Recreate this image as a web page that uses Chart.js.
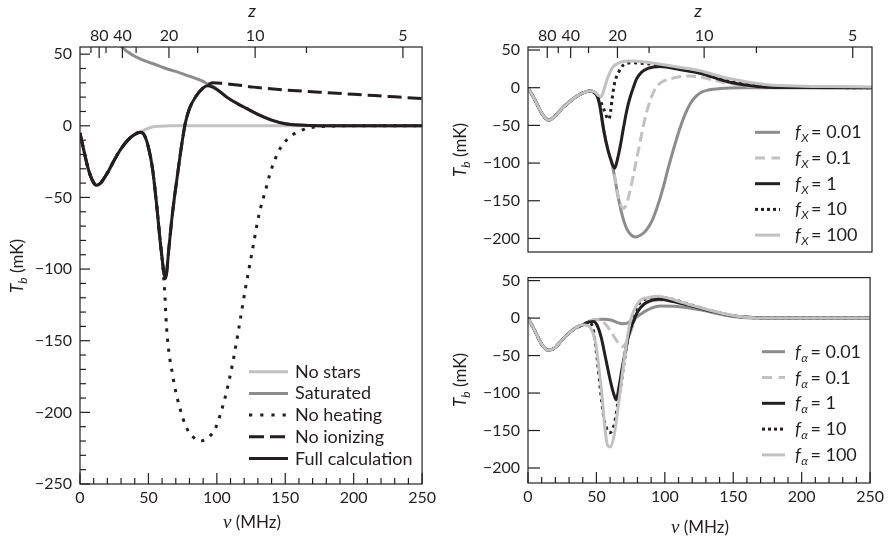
<!DOCTYPE html>
<html>
<head>
<meta charset="utf-8">
<script src="https://cdn.jsdelivr.net/npm/chart.js@4.4.0/dist/chart.umd.min.js"></script>
<style>
  body { margin:0; background:#fff; }
  #wrap { position:relative; width:888px; height:536px; }
  canvas { position:absolute; }
</style>
</head>
<body>
<div id="wrap">
  <canvas id="left" width="440" height="536" style="left:0;top:0"></canvas>
  <canvas id="fx" width="448" height="270" style="left:440px;top:0"></canvas>
  <canvas id="fa" width="448" height="276" style="left:440px;top:260px"></canvas>
</div>
<script>
// ---- data (nu in MHz, Tb in mK) ----

// left panel
var leftLabels = ['No stars', 'Saturated', 'No heating', 'No ionizing', 'Full calculation'];
var nuFull = [0,3,6,9,12,15,20,25,30,35,40,44,47,50,53,56,59,62.5,65,67,69,71,73,75,77,80,85,90,93,97,102,108,115,122,130,140,150,160,175,200,250];
var tbFull = [-5,-18,-30,-38,-41.5,-40,-33,-24,-16,-10,-6,-4.5,-6.5,-15,-30,-55,-84,-106.5,-85,-66,-50,-36,-22,-9,2,12,21,26.5,28,27,24,19.5,15.5,12,8,4,1.5,0.5,0,0,0];
var nuNoStars = [0,3,6,9,12,15,20,25,30,35,40,44,48,52,58,66,80,250];
var tbNoStars = [-5,-18,-30,-38,-41.5,-40,-33,-24,-16,-10,-6,-4.5,-2.5,-1,-0.3,0,0,0];
var nuSat = [25,30,35,41,47,53,60,65,72,77.5,84,90,93,97,102,108,115,122,130,140,150,160,175,200,250];
var tbSat = [59,55.5,51.5,48,45.5,43.5,41,39.3,37.3,35.4,33.3,31,29.3,27.5,24.2,19.5,15.5,12,8,4,1.5,0.5,0,0,0];
var nuNoIon = [0,3,6,9,12,15,20,25,30,35,40,44,47,50,53,56,59,62.5,65,67,69,71,73,75,77,80,85,90,93,97,105,115,127,150,175,200,225,250];
var tbNoIon = [-5,-18,-30,-38,-41.5,-40,-33,-24,-16,-10,-6,-4.5,-6.5,-15,-30,-55,-84,-106.5,-85,-66,-50,-36,-22,-9,2,12,21,26.5,28.5,30,29.5,28.5,27,25,23.5,22,20.5,19];
var nuNoHeat = [0,3,6,9,12,15,20,25,30,35,40,44,47,50,53,56,59,60.5,62,63.2,65.4,67,69,72.7,77.5,82,88,94.5,99,103,107,111.5,116.3,121,125.6,130.8,135.6,139.3,145,150,155,161,168,180,200,250];
var tbNoHeat = [-5,-18,-30,-38,-41.5,-40,-33,-24,-16,-10,-6,-4.5,-6.5,-15,-30,-55,-84,-98,-118,-140,-161,-170,-181,-196,-210,-216.5,-220,-217,-211,-200,-186,-166,-140,-113,-89,-62,-45,-32,-18,-11,-6.5,-3.5,-1.4,-0.3,0,0];

// top right panel, f_X
var fLabels = ['0.01', '0.1', '1', '10', '100'];
var nuFx001 = [0,5,10,15,20,25,30,35,40,45,48,50,52,55,58,61,63,65,67,69.5,72,75,78,82,86,90,94,98,102,106,110,114,118,122,126,130,140,155,250];
var tbFx001 = [0,-16,-34,-43,-37,-27,-19,-12,-7,-4.5,-6,-10,-22,-56,-82,-100,-119,-140,-158,-176,-188,-195.5,-198,-195.5,-189,-177,-158,-134,-106,-80,-56,-36,-21,-11.5,-6,-3.5,-1,0,0];
var nuFx01 = [0,5,10,15,20,25,30,35,40,45,48,50,52,55,58,61,63,65,67,69.5,72,74.5,77,80,83,86,89,92,96,100,106,112,118,125,140,150,160,175,250];
var tbFx01 = [0,-16,-34,-43,-37,-27,-19,-12,-7,-4.5,-6,-10,-22,-56,-82,-100,-119,-140,-154,-160,-152,-134,-112,-85,-58,-34,-16,-3,6,10,13,15,15.5,14,8,4.5,2,0.5,0];
var nuFx1 = [0,5,10,15,20,25,30,35,40,45,48,50,52,55,58,61,63,65,67,69.5,71.8,74,76.7,79,82.8,87,91.3,96,100,110,125,145,165,180,250];
var tbFx1 = [0,-16,-34,-43,-37,-27,-19,-12,-7,-4.5,-6,-10,-22,-56,-82,-100,-107,-95,-78,-52,-30,-14,1,12,21,25.5,27.5,28,27.5,24,19,8,2,0.3,0];
var nuFx10 = [0,5,10,15,20,25,30,35,40,45,48,51,55,57,58.8,60,61,62.8,66,69.3,76,85,100,115,125,145,174,200,250];
var tbFx10 = [0,-16,-34,-43,-37,-27,-19,-12,-7,-4.5,-6,-12,-28,-38,-42,-32,-17,5,21,30,33,32,29,24,21,10,2,0.5,0];
var nuFx100 = [0,5,10,15,20,25,30,35,40,45,48,51,53,55,57.3,60,62,66,70,76,85,100,112,125,145,174,200,222,250];
var tbFx100 = [0,-16,-34,-43,-37,-27,-19,-12,-7,-4.5,-5,-10,-12,-4,10,22,28,33,35,35.5,34,30,26.5,22.5,12.5,4,2,1.5,1];

// bottom right panel, f_alpha
var nuFa001 = [0,5,10,15,20,25,30,35,40,45,50,55,60.5,65.5,69,72,75,80,87.4,97,109,126,145,160,175,250];
var tbFa001 = [0,-17,-35,-43,-39,-29,-20,-13,-9,-4,-2,-1.5,-2.5,-6,-7.5,-7,-4.4,2,11,16,15.5,11,3.5,0.5,0,0];
var nuFa01 = [0,5,10,15,20,25,30,35,40,45,50,53.4,57,60.6,65.5,69,72.8,76.5,79,81.4,86,92,97,105,115,130,145,160,175,250];
var tbFa01 = [0,-17,-35,-43,-39,-29,-20,-13,-9,-4,-2,-3,-9,-18,-32,-38,-29,-11,3,13,20,23.5,24,22.5,19,12,5,1.5,0.2,0];
var nuFa1 = [0,5,10,15,20,25,30,35,40,45,48,50,53.4,57,60.6,63,64.5,66.5,68.5,70.4,74,77.7,80,85,90,96,105,120,135,150,165,180,250];
var tbFa1 = [0,-17,-35,-43,-39,-29,-20,-13,-9,-5,-4.5,-8,-25,-56,-87,-103,-109,-92,-70,-51,-20,-2,8,19,23.5,25,22.5,16,9,3,0.7,0,0];
var nuFa10 = [0,5,10,15,20,25,30,35,40,44,47,49,51,53,55,57,59.5,61.5,63.5,65.5,67.8,70,72.7,75.3,78,82,88,95,102,115,133,152.7,165,180,250];
var tbFa10 = [0,-17,-35,-43,-39,-29,-20,-13,-9,-6,-10,-32,-62,-97,-128,-145,-153,-150,-138,-115,-90,-62,-30,-8,8,21,26.5,28,26.5,20,10,2.5,0.5,0,0];
var nuFa100 = [0,5,10,15,20,25,30,35,40,42.5,45.3,47.5,49.5,52,54.4,56.1,58,60,62.8,65.3,67.8,70.2,72.7,75.1,77.6,82.5,87.4,94.6,102,109,120,133,145,152.7,165,180,250];
var tbFa100 = [0,-17,-35,-43,-39,-29,-20,-13,-9,-9.5,-12,-20,-34,-69,-109,-145,-169,-172,-158,-127,-91,-56,-24.5,-2.2,11,24.4,27,29,27,23,17,10.5,5,2.5,0.5,0,0];

// axes
var xTicks = [0, 50, 100, 150, 200, 250];
var yTicksLeft = [-250, -200, -150, -100, -50, 0, 50];
var yTicksRight = [-200, -150, -100, -50, 0, 50];
var zTickNu = [14, 31, 65, 128, 236];          // where the redshift labels sit on the nu axis
var zTickLabels = ['80', '40', '20', '10', '5'];
var zMinorLeft = [8, 19, 41, 86, 165.5];
var zMinorRight = [22, 44, 88, 166];

var ink = '#231f20', midGray = '#8c8c8c', lightGray = '#c1c1c1';

Chart.defaults.font.family = 'Lato';
Chart.defaults.color = ink;

function steps(a, b, s) {
    var out = [];
    for (var v = a; v <= b + 1e-9; v += s) out.push(v);
    return out;
}
function notIn(list) { return function (v) { return list.indexOf(v) < 0; }; }
function minus(v) { return v < 0 ? '\u2212' + (-v) : String(v); }

function series(label, nu, tb, color, dash, order) {
    return {
        label: label,
        data: nu.map(function (x, i) { return { x: x, y: tb[i] }; }),
        borderColor: color, borderWidth: 3, borderDash: dash || [],
        pointRadius: 0, fill: false, cubicInterpolationMode: 'monotone',
        clip: 0, order: order
    };
}

// mixed-style text runs: [text, font, dy, extra gap]
function drawRuns(ctx, runs, x, y, center) {
    var w = 0;
    runs.forEach(function (r) { ctx.font = r[1]; w += ctx.measureText(r[0]).width + (r[3] || 0); });
    var cx = center ? x - w / 2 : x;
    runs.forEach(function (r) {
        ctx.font = r[1];
        ctx.fillText(r[0], cx, y + (r[2] || 0));
        cx += ctx.measureText(r[0]).width + (r[3] || 0);
    });
}

// box round the plot + inward tick marks
var framePlugin = {
    id: 'frame',
    afterDatasetsDraw: function (chart, args, o) {
        var ctx = chart.ctx, a = chart.chartArea;
        ctx.save();
        ctx.strokeStyle = ink;
        ctx.lineWidth = 1.2;
        ctx.strokeRect(a.left, a.top, a.right - a.left, a.bottom - a.top);
        (o.marks || []).forEach(function (m) {
            var s = chart.scales[m.scale];
            m.values.forEach(function (v) {
                var p = s.getPixelForValue(v);
                ctx.beginPath();
                if (m.side == 'left') { ctx.moveTo(a.left, p); ctx.lineTo(a.left + m.len, p); }
                if (m.side == 'bottom') { ctx.moveTo(p, a.bottom); ctx.lineTo(p, a.bottom - m.len); }
                if (m.side == 'top') { ctx.moveTo(p, a.top); ctx.lineTo(p, a.top + m.len); }
                ctx.stroke();
            });
        });
        ctx.restore();
    }
};

// axis titles with italics / subscripts
var titlePlugin = {
    id: 'titles',
    afterDraw: function (chart, args, o) {
        var ctx = chart.ctx;
        ctx.save();
        ctx.fillStyle = ink;
        ctx.textBaseline = 'alphabetic';
        if (o.y) {
            ctx.save();
            ctx.translate(o.y[0], o.y[1]);
            ctx.rotate(-Math.PI / 2);
            drawRuns(ctx, [['T', 'italic 17px Lato', 0], ['b', 'italic 12px Lato', 4], [' (mK)', '17px Lato', 0]], 0, 0, true);
            ctx.restore();
        }
        if (o.x) drawRuns(ctx, [['\u03bd', 'italic 19px "Liberation Serif"', 0], [' (MHz)', '17px Lato', 0]], o.x[0], o.x[1], true);
        if (o.z) drawRuns(ctx, [['z', 'italic 18px Lato', 0]], o.z[0], o.z[1], true);
        ctx.restore();
    }
};

// legend drawn inside the plot area
var keyPlugin = {
    id: 'key',
    afterDraw: function (chart, args, o) {
        if (!o.rows) return;
        var ctx = chart.ctx;
        o.rows.forEach(function (r, i) {
            var ds = chart.data.datasets[r.ds];
            var y = o.y + i * o.gap;
            ctx.save();
            ctx.strokeStyle = ds.borderColor;
            ctx.lineWidth = ds.borderWidth;
            ctx.setLineDash(r.dash || ds.borderDash || []);
            ctx.beginPath();
            ctx.moveTo(o.x1, y);
            ctx.lineTo(o.x2, y);
            ctx.stroke();
            ctx.restore();
            ctx.save();
            ctx.fillStyle = ink;
            ctx.textBaseline = 'alphabetic';
            if (r.sub) drawRuns(ctx, [['f', 'italic 18px Lato', 6, 0.5], [r.sub, 'italic 12px Lato', 10, 2.5], ['= ' + r.text, '18px Lato', 6]], o.tx, y);
            else drawRuns(ctx, [[r.text, '18px Lato', 6]], o.tx, y);
            ctx.restore();
        });
    }
};

Chart.register(framePlugin, titlePlugin, keyPlugin);

function xScale(height, show) {
    var s = {
        type: 'linear', position: 'bottom', min: 0, max: 250, display: show,
        afterBuildTicks: function (s) { s.ticks = xTicks.map(function (v) { return { value: v }; }); },
        grid: { display: false, drawTicks: false }, border: { display: false },
        ticks: { padding: 4, color: ink, font: { size: 16 }, maxRotation: 0, autoSkip: false }
    };
    if (show) s.afterFit = function (sc) { sc.height = height; };
    return s;
}
function zScale() {
    return {
        type: 'linear', position: 'top', min: 0, max: 250,
        afterBuildTicks: function (s) { s.ticks = zTickNu.map(function (v) { return { value: v }; }); },
        afterFit: function (s) { s.height = 47; },
        grid: { display: false, drawTicks: false }, border: { display: false },
        ticks: { padding: 2, color: ink, font: { size: 16 }, maxRotation: 0, autoSkip: false,
                 callback: function (v, i) { return zTickLabels[i]; } }
    };
}
function yScale(min, max, ticks, width) {
    return {
        type: 'linear', position: 'left', min: min, max: max,
        afterBuildTicks: function (s) { s.ticks = ticks.map(function (v) { return { value: v }; }); },
        afterFit: function (s) { s.width = width; },
        grid: { display: false, drawTicks: false }, border: { display: false },
        ticks: { padding: 8, color: ink, font: { size: 16 }, callback: minus }
    };
}
function baseOptions(padding, scales, frame, titles, key) {
    return {
        responsive: false, animation: false, events: [],
        layout: { padding: padding },
        plugins: { legend: { display: false }, tooltip: { enabled: false }, frame: frame, titles: titles, key: key },
        scales: scales
    };
}

// left: full calculation and limiting cases
new Chart(document.getElementById('left'), {
    type: 'line',
    data: { datasets: [
        series(leftLabels[0], nuNoStars, tbNoStars, lightGray, [], 4),
        series(leftLabels[1], nuSat, tbSat, midGray, [], 3),
        series(leftLabels[2], nuNoHeat, tbNoHeat, ink, [3.2, 7], 1),
        series(leftLabels[3], nuNoIon, tbNoIon, ink, [14, 6], 2),
        series(leftLabels[4], nuFull, tbFull, ink, [], 0)
    ] },
    options: baseOptions({ top: 0, right: 16, bottom: 0, left: 0 },
        { x: xScale(52, true), z: zScale(), y: yScale(-250, 55, yTicksLeft, 80) },
        { marks: [
            { scale: 'y', side: 'left', values: yTicksLeft, len: 10 },
            { scale: 'y', side: 'left', values: steps(-250, 50, 10).filter(notIn(yTicksLeft)), len: 6 },
            { scale: 'x', side: 'bottom', values: xTicks, len: 11 },
            { scale: 'x', side: 'bottom', values: steps(0, 250, 10).filter(notIn(xTicks)), len: 6 },
            { scale: 'z', side: 'top', values: zTickNu, len: 11 },
            { scale: 'z', side: 'top', values: zMinorLeft, len: 6 }
        ] },
        { y: [23, 266], x: [252, 528], z: [252, 17] },
        { x1: 249, x2: 288, tx: 295, y: 371.7, gap: 21.7, rows: [
            { ds: 0, text: leftLabels[0] }, { ds: 1, text: leftLabels[1] },
            { ds: 2, text: leftLabels[2], dash: [3.2, 8] }, { ds: 3, text: leftLabels[3], dash: [15, 6] },
            { ds: 4, text: leftLabels[4] }
        ] })
});

// top right: X-ray heating efficiency (canvas runs a little under the lower one, so the
// y tick label padding fits below the plot box)
new Chart(document.getElementById('fx'), {
    type: 'line',
    data: { datasets: [
        series('fX=' + fLabels[0], nuFx001, tbFx001, midGray, [], 4),
        series('fX=' + fLabels[1], nuFx01, tbFx01, lightGray, [10, 5], 3),
        series('fX=' + fLabels[2], nuFx1, tbFx1, ink, [], 1),
        series('fX=' + fLabels[3], nuFx10, tbFx10, ink, [3, 3.7], 2),
        series('fX=' + fLabels[4], nuFx100, tbFx100, lightGray, [], 0)
    ] },
    options: baseOptions({ top: 0, right: 16, bottom: 18, left: 0 },
        { x: xScale(0, false), z: zScale(), y: yScale(-218, 54, yTicksRight, 88) },
        { marks: [
            { scale: 'y', side: 'left', values: yTicksRight, len: 12 },
            { scale: 'z', side: 'top', values: zTickNu, len: 11 },
            { scale: 'z', side: 'top', values: zMinorRight, len: 6 }
        ] },
        { y: [26, 150], z: [258, 17] },
        { x1: 315, x2: 340, tx: 355, y: 132.3, gap: 25.7, rows: fLabels.map(function (t, i) {
            return { ds: i, sub: 'X', text: t, dash: i == 1 ? [10, 6.5] : (i == 3 ? [3, 3] : null) };
        }) })
});

// bottom right: Lyman-alpha efficiency
new Chart(document.getElementById('fa'), {
    type: 'line',
    data: { datasets: [
        series('fa=' + fLabels[0], nuFa001, tbFa001, midGray, [], 4),
        series('fa=' + fLabels[1], nuFa01, tbFa01, lightGray, [10, 5], 3),
        series('fa=' + fLabels[2], nuFa1, tbFa1, ink, [], 1),
        series('fa=' + fLabels[3], nuFa10, tbFa10, ink, [3, 4], 2),
        series('fa=' + fLabels[4], nuFa100, tbFa100, lightGray, [], 0)
    ] },
    options: baseOptions({ top: 17, right: 16, bottom: 0, left: 0 },
        { x: xScale(53, true), y: yScale(-220, 54, yTicksRight, 88) },
        { marks: [
            { scale: 'y', side: 'left', values: yTicksRight, len: 12 },
            { scale: 'x', side: 'bottom', values: xTicks, len: 11 },
            { scale: 'x', side: 'bottom', values: steps(0, 250, 10).filter(notIn(xTicks)), len: 6 }
        ] },
        { y: [26, 120], x: [260, 273] },
        { x1: 322, x2: 345, tx: 355, y: 91.7, gap: 25.8, rows: fLabels.map(function (t, i) {
            return { ds: i, sub: '\u03b1', text: t, dash: i == 1 ? [10, 6.5] : (i == 3 ? [3, 3] : null) };
        }) })
});
</script>
</body>
</html>
